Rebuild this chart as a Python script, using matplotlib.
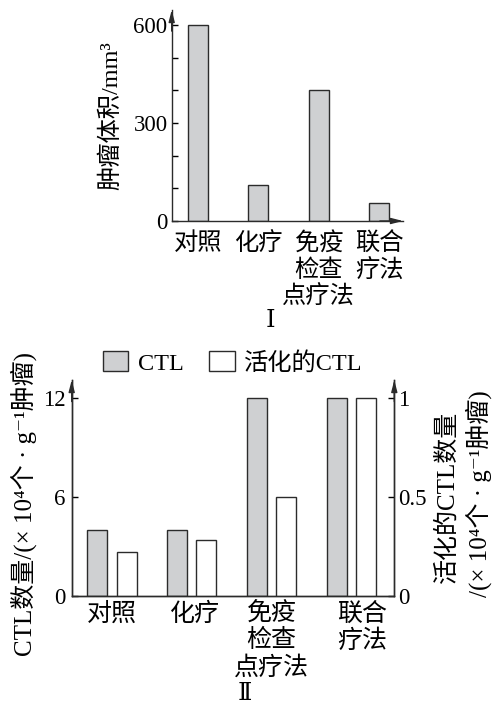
import matplotlib
matplotlib.use("Agg")
import matplotlib.pyplot as plt
from matplotlib.patches import Patch

# === DATA ===
groups_top = ["对照", "化疗", "免疫\n检查\n点疗法", "联合\n疗法"]
tumor_volume = [600, 110, 400, 55]

groups_bot = ["对照", "化疗", "免疫\n检查\n点疗法", "联合\n疗法"]
ctl_count = [4, 4, 12, 12]            # left axis, x10^4 per g tumour
ctl_active = [0.22, 0.28, 0.5, 1.0]   # right axis

# === STYLE ===
W, H = 492, 704
FS = 16.5      # numbers
FC = 17.5      # chinese text
GRAY = "#cfd0d2"
EDGE = "#2b2b2b"
SERIF_CJK = ["Liberation Serif", "DejaVu Serif", "Noto Sans CJK SC"]
plt.rcParams["font.family"] = SERIF_CJK
plt.rcParams["axes.linewidth"] = 1.0
plt.rcParams["axes.edgecolor"] = EDGE


def fx(px):
    return px / W


def fy(py):
    return 1 - py / H


def arrow(ax, xy, xytext):
    ax.annotate("", xy=xy, xytext=xytext, xycoords="axes fraction",
                arrowprops=dict(arrowstyle="-|>,head_length=0.7,head_width=0.18",
                                color=EDGE, lw=1.0, shrinkA=0, shrinkB=0))


fig = plt.figure(figsize=(W / 100, H / 100), dpi=100)

# 1) Panel I: tumour volume
ax1 = fig.add_axes([fx(171.7), fy(221), fx(403) - fx(171.7), fy(10) - fy(221)])
x1 = range(len(groups_top))
ax1.bar(x1, tumor_volume, width=0.33, color=GRAY, edgecolor=EDGE, linewidth=1.0)
ax1.set_xlim(-0.435, 3.394)
ax1.set_ylim(0, 646)
ax1.spines["top"].set_visible(False)
ax1.spines["right"].set_visible(False)
ax1.set_yticks([0, 100, 200, 300, 400, 500, 600])
ax1.set_yticklabels(["0", "", "", "300", "", "", "600"])
ax1.tick_params(axis="y", direction="in", length=4, width=1.0, pad=3, labelsize=FS)
ax1.set_xticks([])
arrow(ax1, (0, 1.0), (0, 0.9))
arrow(ax1, (1.0, 0), (0.9, 0))
for i, lab in enumerate(groups_top):
    ax1.text(i, -0.055, lab, transform=ax1.get_xaxis_transform(), ha="center",
             va="top", fontsize=FC, linespacing=1.22)
fig.text(fx(111), fy(116), "肿瘤体积/mm³", rotation=90, ha="center", va="center",
         fontsize=FC)
fig.text(fx(270), fy(321), "Ⅰ", ha="center", va="center", fontsize=FS + 1)

# 2) Panel II: CTL counts
ax2 = fig.add_axes([fx(71.7), fy(595.7), fx(394.3) - fx(71.7), fy(380) - fy(595.7)])
ax3 = ax2.twinx()
x2 = list(range(len(groups_bot)))
off = 0.367
ax2.bar(x2, ctl_count, width=0.25, color=GRAY, edgecolor=EDGE, linewidth=1.0)
ax3.bar([v + off for v in x2], ctl_active, width=0.25, color="white",
        edgecolor=EDGE, linewidth=1.0)
ax2.set_xlim(-0.321, 3.722)
ax2.set_ylim(0, 13.11)
ax3.set_ylim(0, 1.0927)
for a in (ax2, ax3):
    a.spines["top"].set_visible(False)
ax2.set_yticks([0, 6, 12])
ax3.set_yticks([0, 0.5, 1])
ax3.set_yticklabels(["0", "0.5", "1"])
ax2.tick_params(axis="y", direction="in", length=4, width=1.0, pad=4.5, labelsize=FS)
ax3.tick_params(axis="y", direction="in", length=4, width=1.0, pad=3, labelsize=FS)
ax2.set_xticks([])
arrow(ax2, (0, 1.0), (0, 0.9))
arrow(ax3, (1.0, 1.0), (1.0, 0.9))
label_x = [0.184, 1.23, 2.184, 3.317]
for xi, lab in zip(label_x, groups_bot):
    ax2.text(xi, -0.03, lab, transform=ax2.get_xaxis_transform(), ha="center",
             va="top", fontsize=FC + 0.5, linespacing=1.2)

fig.text(fx(24), fy(504), "CTL数量/(× 10⁴个 · g⁻¹肿瘤)", rotation=90,
         ha="center", va="center", fontsize=FC + 0.5)
fig.text(fx(447), fy(583), "活化的CTL数量", rotation=90, ha="center", va="bottom",
         fontsize=FC + 0.5)
fig.text(fx(479), fy(597), "/(× 10⁴个 · g⁻¹肿瘤)", rotation=90, ha="center",
         va="bottom", fontsize=FC + 0.5)
fig.text(fx(245), fy(695), "Ⅱ", ha="center", va="center", fontsize=FS + 1)

handles = [Patch(facecolor=GRAY, edgecolor=EDGE, linewidth=1.0, label="CTL"),
           Patch(facecolor="white", edgecolor=EDGE, linewidth=1.0, label="活化的CTL")]
fig.legend(handles=handles, loc="center left", bbox_to_anchor=(fx(102.7), fy(363)),
           ncol=2, frameon=False, fontsize=FC, handlelength=1.06,
           handleheight=0.85, handletextpad=0.38, columnspacing=1.06,
           borderpad=0, borderaxespad=0)

fig.savefig("out.png", dpi=100)
